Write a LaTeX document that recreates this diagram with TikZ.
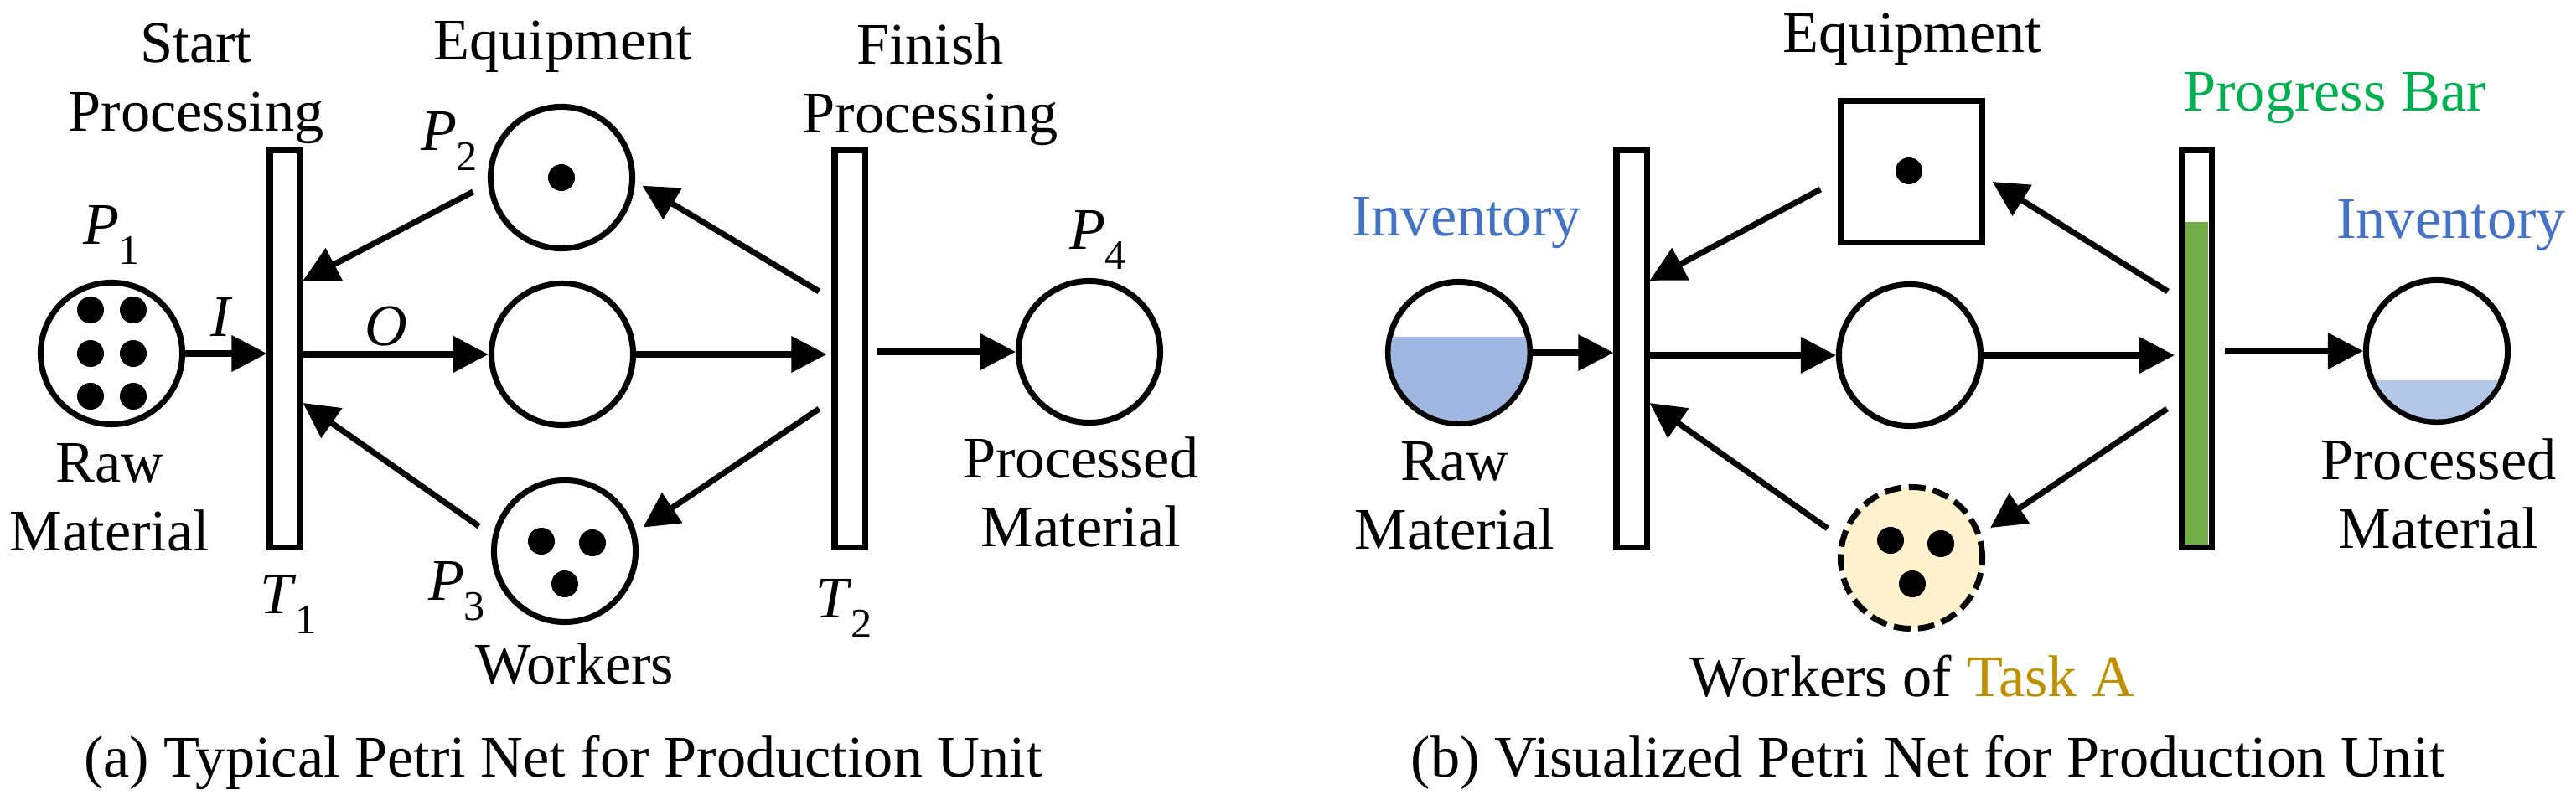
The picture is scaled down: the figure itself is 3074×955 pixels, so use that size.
\documentclass[tikz,border=0pt]{standalone}
\usepackage{fontspec}
\setmainfont{Liberation Serif}
\usepackage{tikz}
\usetikzlibrary{arrows.meta, positioning, calc}

\definecolor{invblue}{HTML}{4472C4}
\definecolor{progreen}{HTML}{00B050}
\definecolor{taskgold}{HTML}{BF9000}
\definecolor{rawfill}{HTML}{9FB6E0}
\definecolor{procfill}{HTML}{B4C7E7}
\definecolor{barfill}{HTML}{70AD47}
\definecolor{wkfill}{HTML}{FFF2CC}

\newcommand{\sublbl}[2]{\textit{#1}\kern-0.5pt\raisebox{-6.8pt}{\fontsize{14.3pt}{15pt}\selectfont #2}}

\tikzset{
  place/.style={circle, draw, line width=2pt, minimum size=1.69cm, inner sep=0pt},
  trans/.style={rectangle, draw, line width=2pt, minimum width=0.36cm, minimum height=4.74cm, inner sep=0pt},
  eqbox/.style={rectangle, draw, line width=2pt, minimum size=1.68cm, inner sep=0pt},
  arc/.style={line width=2pt, -{Triangle[length=0.42cm,width=0.42cm]}},
  lbl/.style={inner sep=0pt, align=center, anchor=base, font=\fontsize{20pt}{23.6pt}\selectfont},
}

\begin{document}
\begin{tikzpicture}[x=0.01cm,y=-0.01cm]
\useasboundingbox (0,0) rectangle (3074,955);

% (a) typical net
\node[place] (p1) at (133,422) {};
\node[trans] (t1) at (340,416.5) {};
\node[place] (p2) at (670,212) {};
\node[place] (mid) at (671,423) {};
\node[place] (p3) at (674,658) {};
\node[trans] (t2) at (1014,416.5) {};
\node[place] (p4) at (1300,420) {};

\foreach \dx in {-25,26}
  \foreach \dy in {-52,0,51}
    \fill ([shift={(\dx,\dy)}]p1.center) circle[radius=0.16cm];
\fill (p2.center) circle[radius=0.16cm];
\fill ([shift={(-28,-12)}]p3.center) circle[radius=0.16cm];
\fill ([shift={(33,-10)}]p3.center) circle[radius=0.16cm];
\fill ([shift={(0,39)}]p3.center) circle[radius=0.16cm];

\draw[arc] (p1.east) -- (p1.east -| t1.west);
\draw[arc] (t1.east |- mid.west) -- (mid.west);
\draw[arc, shorten >=0.06cm] (mid.east) -- (mid.east -| t2.west);
\draw[arc, shorten <=0.11cm] (t2.east |- p4.west) -- (p4.west);
\draw[arc, shorten <=0.2cm] (p2.185) -- ([yshift=0.815cm]t1.east);
\draw[arc, shorten >=0.1cm] ([xshift=-0.15cm,yshift=0.685cm]t2.west) -- (p2.357);
\draw[arc, shorten >=0.1cm] ([xshift=-0.15cm,yshift=-0.715cm]t2.west) -- (p3.15);
\draw[arc, shorten <=0.2cm] (p3.168) -- ([yshift=-0.645cm]t1.east);

\node[lbl] (startlbl) at (234,157) {Start\\Processing};
\node[lbl] (eqlbl) at (672,72) {Equipment};
\node[lbl] (finlbl) at (1110,159) {Finish\\Processing};
\node[lbl] (p1lbl) at (133,292) {\sublbl{P}{1}};
\node[lbl] (p2lbl) at (536,180) {\sublbl{P}{2}};
\node[lbl] (p3lbl) at (545,717) {\sublbl{P}{3}};
\node[lbl] (p4lbl) at (1310,298) {\sublbl{P}{4}};
\node[lbl] (t1lbl) at (344,733) {\sublbl{T}{1}};
\node[lbl] (t2lbl) at (1007,738) {\sublbl{T}{2}};
\node[lbl] (ilbl) at (265,402) {\textit{I}};
\node[lbl] (olbl) at (461,413) {\textit{O}};
\node[lbl] (rawlbl) at (131,658) {Raw\\Material};
\node[lbl] (wklbl) at (686,817) {Workers};
\node[lbl] (proclbl) at (1290,653) {Processed\\Material};
\node[lbl] (capa) at (672,927) {(a) Typical Petri Net for Production Unit};

% (b) visualized net
\node[place] (raw) at (1741,421) {};
\node[trans] (t1b) at (1947,416.5) {};
\node[eqbox] (eq) at (2281,205) {};
\node[place] (midb) at (2279,424) {};
\node[place, fill=wkfill, dash pattern=on 0.2cm off 0.09cm] (wk) at (2281,666) {};
\node[trans] (t2b) at (2621.5,416.5) {};
\node[place] (proc) at (2908,419) {};

\begin{scope}
\clip (raw.center) circle[radius=0.815cm];
\fill[rawfill] ([shift={(-90,-19)}]raw.center) rectangle ([shift={(90,90)}]raw.center);
\end{scope}
\begin{scope}
\clip (proc.center) circle[radius=0.815cm];
\fill[procfill] ([shift={(-90,35)}]proc.center) rectangle ([shift={(90,90)}]proc.center);
\end{scope}
\fill[barfill] ([shift={(-13.5,-151.5)}]t2b.center) rectangle ([shift={(13.5,233.5)}]t2b.center);

\fill ([shift={(-3,-1)}]eq.center) circle[radius=0.16cm];
\fill ([shift={(-25,-21)}]wk.center) circle[radius=0.16cm];
\fill ([shift={(35,-17)}]wk.center) circle[radius=0.16cm];
\fill ([shift={(1,31)}]wk.center) circle[radius=0.16cm];

\draw[arc] (raw.east) -- (raw.east -| t1b.west);
\draw[arc] (t1b.east |- midb.west) -- (midb.west);
\draw[arc, shorten >=0.05cm] (midb.east) -- (midb.east -| t2b.west);
\draw[arc, shorten <=0.12cm] (t2b.east |- proc.west) -- (proc.west);
\draw[arc] ([xshift=-0.21cm,yshift=-0.21cm]eq.west) -- ([yshift=0.815cm]t1b.east);
\draw[arc] ([xshift=-0.13cm,yshift=0.685cm]t2b.west) -- ([xshift=0.09cm,yshift=-0.12cm]eq.east);
\draw[arc, shorten >=0.13cm] ([xshift=-0.14cm,yshift=-0.715cm]t2b.west) -- (wk.19);
\draw[arc, shorten <=0.19cm] (wk.164) -- ([yshift=-0.645cm]t1b.east);

\node[lbl] (eqlblb) at (2282,63) {Equipment};
\node[lbl, text=progreen] (proglbl) at (2786,133) {Progress Bar};
\node[lbl, text=invblue] (invlbl) at (1750,282) {Inventory};
\node[lbl, text=invblue] (invlblb) at (2925,285) {Inventory};
\node[lbl] (rawlblb) at (1736,656) {Raw\\Material};
\node[lbl] (proclblb) at (2910,655) {Processed\\Material};
\node[lbl] (wklblb) at (2282,832) {Workers of \textcolor{taskgold}{Task A}};
\node[lbl] (capb) at (2301,927) {(b) Visualized Petri Net for Production Unit};
\end{tikzpicture}
\end{document}
